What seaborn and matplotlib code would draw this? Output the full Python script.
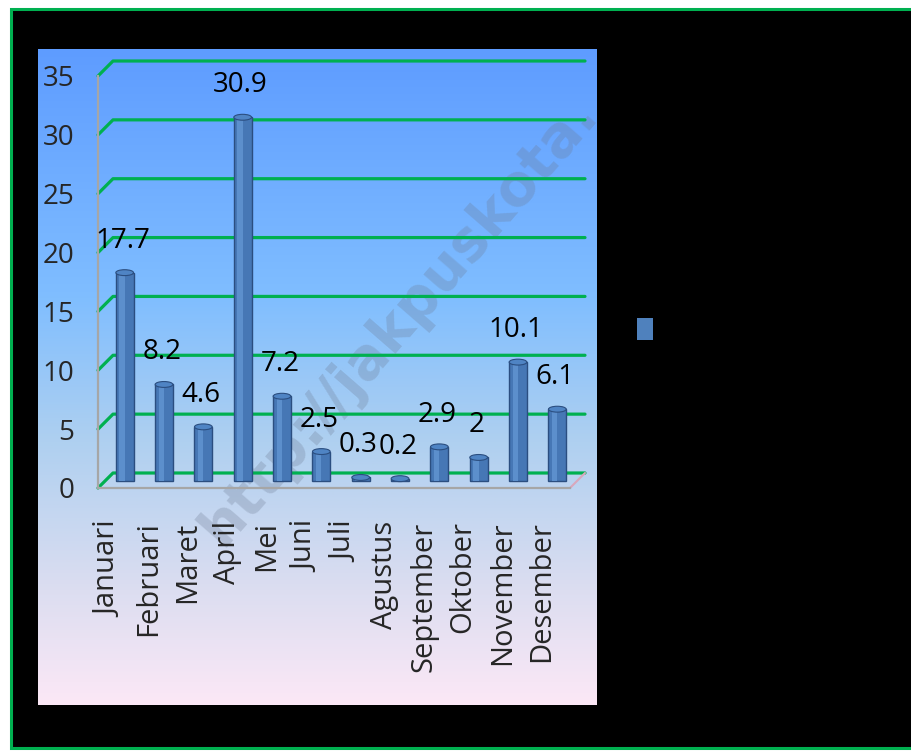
"""Grafik batang bulanan dengan gaya 3D sederhana (silinder) di atas panel gradasi."""
import matplotlib.pyplot as plt
import matplotlib.transforms as mtransforms
import numpy as np
import pandas as pd
import seaborn as sns
from matplotlib.colors import LinearSegmentedColormap
from matplotlib.patches import Ellipse, Patch, Rectangle

# --- data ---
bulan = ["Januari", "Februari", "Maret", "April", "Mei", "Juni", "Juli",
         "Agustus", "September", "Oktober", "November", "Desember"]
nilai = [17.7, 8.2, 4.6, 30.9, 7.2, 2.5, 0.3, 0.2, 2.9, 2, 10.1, 6.1]
y_ticks = [0, 5, 10, 15, 20, 25, 30, 35]
watermark = "http://jakpuskota."

df = pd.DataFrame({"bulan": bulan, "nilai": nilai})

sns.set_style("white")
plt.rcParams["font.family"] = ["Open Sans", "DejaVu Sans"]

HIJAU = "#00B050"
ABU = "#A6A6A6"
BIRU = "#4677B5"
BIRU_TERANG = "#5C8FCC"
BIRU_GELAP = "#2B4E80"

W, H = 912, 755
fig = plt.figure(figsize=(W / 100, H / 100), dpi=100, facecolor="white")


def fx(px):
    return px / W


def fy(py):
    return 1 - py / H


# latar hitam dengan bingkai hijau
fig.add_artist(Rectangle((fx(11), fy(747.5)), fx(930 - 11), (747.5 - 8.5) / H,
                         transform=fig.transFigure, facecolor="black",
                         edgecolor=HIJAU, linewidth=2.2, zorder=-5))

# panel gradasi biru -> merah muda
ax_bg = fig.add_axes([fx(38), fy(705), fx(597 - 38), (705 - 49) / H])
cmap = LinearSegmentedColormap.from_list(
    "panel", [(0.0, "#5E9CFF"), (0.38, "#80BEFF"), (0.6, "#AFD0F0"),
              (0.8, "#D7DCF0"), (1.0, "#FCE8F6")])
ax_bg.imshow(np.linspace(0, 1, 256).reshape(-1, 1), aspect="auto", cmap=cmap,
             extent=(0, 1, 0, 1))
ax_bg.set_xlim(0, 1)
ax_bg.set_ylim(0, 1)
ax_bg.axis("off")
ax_bg.text((222 - 38) / 559, (705 - 548) / 656, watermark, transform=ax_bg.transAxes,
           rotation=49, rotation_mode="anchor", ha="left", va="baseline",
           fontsize=41, fontweight="bold", family="DejaVu Sans",
           color="#6B7890", alpha=0.28)

# sumbu utama (dinding depan)
ax = fig.add_axes([fx(98), fy(488), fx(570 - 98), (488 - 76) / H])
ax.set_facecolor("none")

# garis kisi hijau di dinding belakang, digeser ke kanan-atas
BX, BY = 15 / 39.33, 15 / 11.77
for t in y_ticks:
    ax.plot([-0.5, -0.5 + BX, len(bulan) - 0.5 + BX], [t, t + BY, t + BY],
            color=HIJAU, lw=2.3, solid_capstyle="round", clip_on=False, zorder=1)
ax.plot([len(bulan) - 0.5, len(bulan) - 0.5 + BX], [0, BY], color="#D8A8BC",
        lw=1.5, clip_on=False, zorder=1)

sns.barplot(data=df, x="bulan", y="nilai", color=BIRU, saturation=1, width=0.45,
            edgecolor=BIRU_GELAP, linewidth=1, ax=ax, zorder=3)

# batang berada di tengah kedalaman -> geser 7 px
geser = ax.transData + mtransforms.ScaledTranslation(7 / 100, 7 / 100, fig.dpi_scale_trans)
batang = ax.containers[0]
for b in batang:
    b.set_transform(geser)
    b.set_clip_on(False)
    x0, w, h = b.get_x(), b.get_width(), b.get_height()
    ax.add_patch(Rectangle((x0 + 0.2 * w, 0), 0.3 * w, h, facecolor=BIRU_TERANG,
                           lw=0, transform=geser, zorder=3.5, clip_on=False))
    ax.add_patch(Ellipse((x0 + w / 2, h), w, 0.5, facecolor="#4F84C4",
                         edgecolor=BIRU_GELAP, lw=0.8, transform=geser, zorder=4,
                         clip_on=False))

teks_nilai = ax.bar_label(batang, fmt="{:g}", padding=18, fontsize=20, color="black")
for t in teks_nilai:
    t.xyann = (3.5, t.xyann[1])

ax.set_xlim(-0.5, len(bulan) - 0.5)
ax.set_ylim(0, 35)
ax.set_yticks(y_ticks)
ax.set_xticks(np.arange(len(bulan)) - 0.22, bulan)
ax.set_xticks(np.arange(len(bulan) + 1) - 0.5, minor=True)
ax.set_xlabel("")
ax.set_ylabel("")

ax.tick_params(axis="x", which="major", length=0, pad=24, labelsize=21,
               labelrotation=90)
ax.tick_params(axis="x", which="minor", length=8, width=1.5, color=ABU, direction="out")
ax.tick_params(axis="y", length=4, width=1.5, color=ABU, direction="out", pad=13,
               labelsize=20)

for side in ["top", "right"]:
    ax.spines[side].set_visible(False)
for side in ["left", "bottom"]:
    ax.spines[side].set_color(ABU)
    ax.spines[side].set_linewidth(1.6)
    ax.spines[side].set_zorder(2)

# legenda: hanya kotak biru
fig.legend(handles=[Patch(facecolor="#4F81BD", edgecolor="none")], labels=[""],
           loc="center left", bbox_to_anchor=(fx(637), fy(331.5)), frameon=False,
           fontsize=22, handlelength=16 / 30.5, handleheight=23 / 30.5,
           borderpad=0, borderaxespad=0, handletextpad=0)

fig.savefig("out.png", dpi=100, facecolor="white")
